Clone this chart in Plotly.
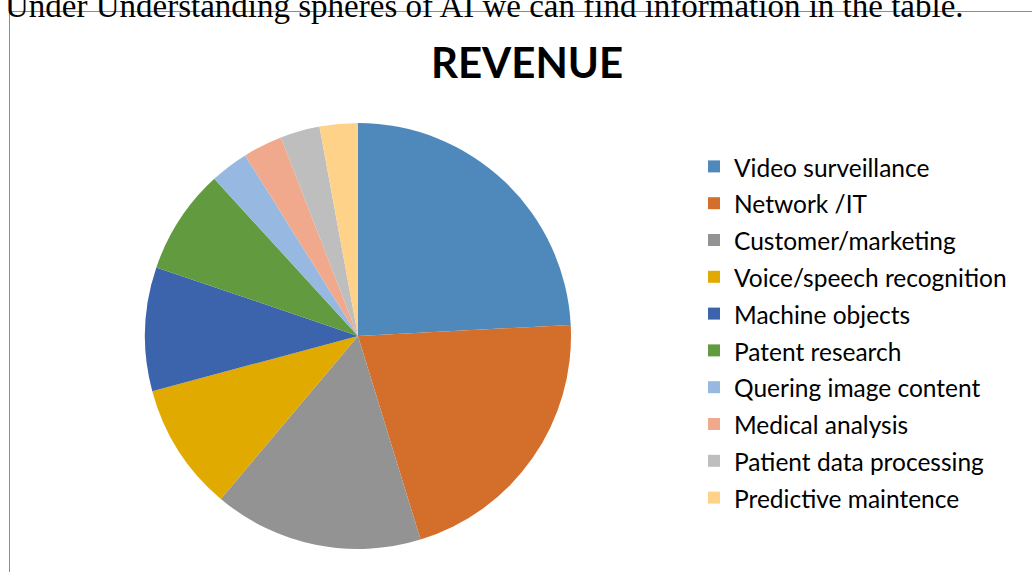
import plotly.graph_objects as go

W, H = 1032, 572

labels = ['Video surveillance', 'Network /IT', 'Customer/marketing',
          'Voice/speech recognition', 'Machine objects', 'Patent research',
          'Quering image content', 'Medical analysis',
          'Patient data processing', 'Predictive maintence']
values = [24.2, 21.1, 15.9, 9.7, 9.4, 8.0, 2.9, 3.0, 3.0, 2.9]
colors = ['#4F89BB', '#D46E2B', '#939393', '#E1AA00', '#3C64AD',
          '#629A3F', '#97B8E0', '#F0A98C', '#BEBEBE', '#FFD28A']

# pie geometry in pixels
cx, cy, r = 358, 336, 213

# legend rows are spaced by the legend font size, the text itself a bit smaller
legend_text = ['<span style="font-size:24.5px">%s</span>' % s for s in labels]

fig = go.Figure(go.Pie(
    labels=legend_text,
    values=values,
    sort=False,
    direction='clockwise',
    rotation=0,
    textinfo='none',
    hovertext=labels,
    hoverinfo='text+percent',
    marker=dict(colors=colors, line=dict(width=0)),
    domain=dict(x=[(cx - r) / W, (cx + r) / W],
                y=[1 - (cy + r) / H, 1 - (cy - r) / H]),
))

fig.update_layout(
    width=W, height=H,
    margin=dict(l=0, r=0, t=0, b=0),
    paper_bgcolor='white',
    font=dict(family='Lato, Carlito, sans-serif', color='#000000'),
    title=dict(text='<b>REVENUE</b>', x=527 / W, xanchor='center',
               y=1 - 63 / H, yanchor='middle',
               font=dict(size=42, family='Lato, sans-serif', color='#000000')),
    legend=dict(x=694 / W, xanchor='left', y=1 - 143 / H, yanchor='top',
                font=dict(size=26, family='Lato, sans-serif', color='#000000'),
                bgcolor='rgba(0,0,0,0)'),
    shapes=[dict(type='rect', xref='paper', yref='paper',
                 x0=9.5 / W, x1=1.02, y0=-0.02, y1=1 - 11.5 / H,
                 line=dict(color='#8C8C8C', width=1))],
    annotations=[dict(text='Under Understanding spheres of AI we can find information in the table.',
                      xref='paper', yref='paper', x=3 / W, y=1 - 6 / H,
                      xanchor='left', yanchor='middle', showarrow=False,
                      font=dict(size=33, family='Liberation Serif, Times New Roman, serif',
                                color='#000000'))],
)

# drop the browser's default page margin so the figure sits at (0, 0)
fig.write_html("out.html", config={'displayModeBar': False},
               post_script="document.body.style.margin='0';document.body.style.overflow='hidden';")
